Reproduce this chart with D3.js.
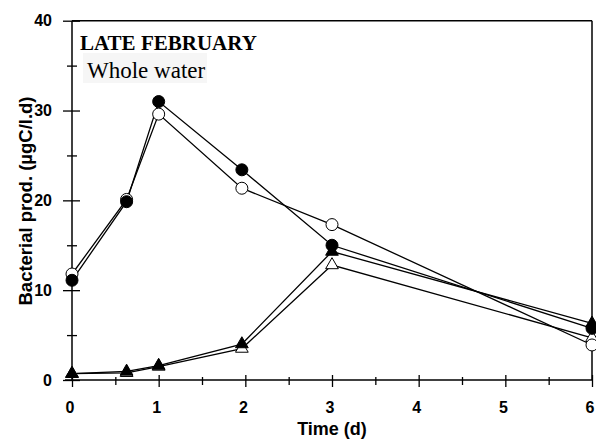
<!DOCTYPE html>
<html>
<head>
<meta charset="utf-8">
<script src="https://cdn.jsdelivr.net/npm/d3@7"></script>
<style>
  body { margin: 0; background: white; }
  .tick text { font-family: "Liberation Sans", Arial, sans-serif; font-weight: bold; font-size: 16px; fill: black; }
</style>
</head>
<body>
<div id="chart"></div>
<script>
// data
const times = [0, 0.63, 1, 1.96, 3, 6];
const filledCircle = [11.1, 19.85, 31.0, 23.4, 15.0, 5.75];
const openCircle = [11.8, 20.1, 29.6, 21.35, 17.3, 3.9];
const filledTriangle = [0.7, 0.95, 1.6, 4.0, 14.3, 6.3];
const openTriangle = [0.7, 0.8, 1.5, 3.5, 12.8, 4.7];
const xTicks = [0, 1, 2, 3, 4, 5, 6];
const yTicks = [0, 10, 20, 30, 40];

const w = 596;
const h = 441;

const svg = d3.select("#chart")
      .append("svg")
      .attr("width", w)
      .attr("height", h)
      .style("background-color", "white");

const x = d3.scaleLinear().domain([0, 6]).range([72, 592]);
const y = d3.scaleLinear().domain([0, 40]).range([380, 20.7]);

//frame top + right
svg.append("line").attr("x1", 72).attr("x2", 592).attr("y1", y(40)).attr("y2", y(40))
      .style("stroke", "black").style("stroke-width", 1.5);
svg.append("line").attr("x1", 592).attr("x2", 592).attr("y1", y(40)).attr("y2", 380)
      .style("stroke", "black").style("stroke-width", 1.5);

//y axis
const yAxis = svg.append("g")
      .attr("transform", "translate(72,0)")
      .call(d3.axisLeft(y).tickValues(yTicks).tickSize(9).tickPadding(11));
yAxis.select(".domain").style("stroke-width", 1.5).attr("d", `M0,${y(40)}V380`);
yAxis.selectAll(".tick line").attr("x1", 8).style("stroke-width", 1.3);

const yMinor = svg.append("g")
      .attr("transform", "translate(72,0)")
      .call(d3.axisLeft(y).tickValues([5, 15, 25, 35]).tickSize(5).tickFormat(""));
yMinor.select(".domain").remove();
yMinor.selectAll(".tick line").attr("x1", 5).style("stroke-width", 1.3);

//x axis
const xAxis = svg.append("g")
      .attr("transform", "translate(0,380)")
      .call(d3.axisBottom(x).tickValues(xTicks).tickSize(7).tickFormat(d3.format("d")));
xAxis.select(".domain").style("stroke-width", 1.5).attr("d", "M65,0H592");
xAxis.selectAll(".tick line").attr("y1", -5).style("stroke-width", 1.3);
xAxis.selectAll(".tick text").attr("y", 33).attr("dy", 0).attr("x", -2.5);

const xMinor = svg.append("g")
      .attr("transform", "translate(0,380)")
      .call(d3.axisBottom(x).tickValues([0.5, 1.5, 2.5, 3.5, 4.5, 5.5]).tickSize(5).tickFormat(""));
xMinor.select(".domain").remove();
xMinor.selectAll(".tick line").attr("y1", -3).style("stroke-width", 1.3);

//axis titles
svg.append("text")
      .attr("x", 332).attr("y", 435)
      .attr("text-anchor", "middle")
      .style("font-family", "Liberation Sans, Arial, sans-serif")
      .style("font-weight", "bold").style("font-size", "18px")
      .text("Time (d)");

svg.append("text")
      .attr("transform", "translate(32,201) rotate(-90)")
      .attr("text-anchor", "middle")
      .style("font-family", "Liberation Sans, Arial, sans-serif")
      .style("font-weight", "bold").style("font-size", "18.5px")
      .text("Bacterial prod. (µgC/l.d)");

//annotations
svg.append("rect").attr("x", 83).attr("y", 53).attr("width", 124).attr("height", 30)
      .style("fill", "#f6f6f6");
svg.append("text")
      .attr("x", 80).attr("y", 50)
      .style("font-family", "Liberation Serif, Times New Roman, serif")
      .style("font-weight", "bold").style("font-size", "21px")
      .text("LATE FEBRUARY");
svg.append("text")
      .attr("x", 87).attr("y", 78)
      .style("font-family", "Liberation Serif, Times New Roman, serif")
      .style("font-size", "23px")
      .text("Whole water");

//series
const series = [
  { values: filledCircle, shape: "circle", fill: "black" },
  { values: openCircle, shape: "circle", fill: "white" },
  { values: filledTriangle, shape: "triangle", fill: "black" },
  { values: openTriangle, shape: "triangle", fill: "white" }
];

const line = d3.line()
      .x((d, i) => x(times[i]))
      .y((d) => y(d));

svg.selectAll(".series")
      .data(series)
      .enter()
      .append("path")
      .attr("class", "series")
      .attr("d", (d) => line(d.values))
      .style("fill", "none")
      .style("stroke", "black")
      .style("stroke-width", 1.3);

const circleSym = d3.symbol().type(d3.symbolCircle).size(Math.PI * 36);
const triSym = d3.symbol().type(d3.symbolTriangle).size(70);

// draw open markers first, filled on top
[series[3], series[1], series[2], series[0]].forEach((s) => {
  svg.append("g").selectAll("path")
        .data(s.values)
        .enter()
        .append("path")
        .attr("transform", (d, i) => `translate(${x(times[i])},${y(d)})`)
        .attr("d", s.shape === "circle" ? circleSym : triSym)
        .style("fill", s.fill)
        .style("stroke", "black")
        .style("stroke-width", 1);
});
</script>
</body>
</html>
